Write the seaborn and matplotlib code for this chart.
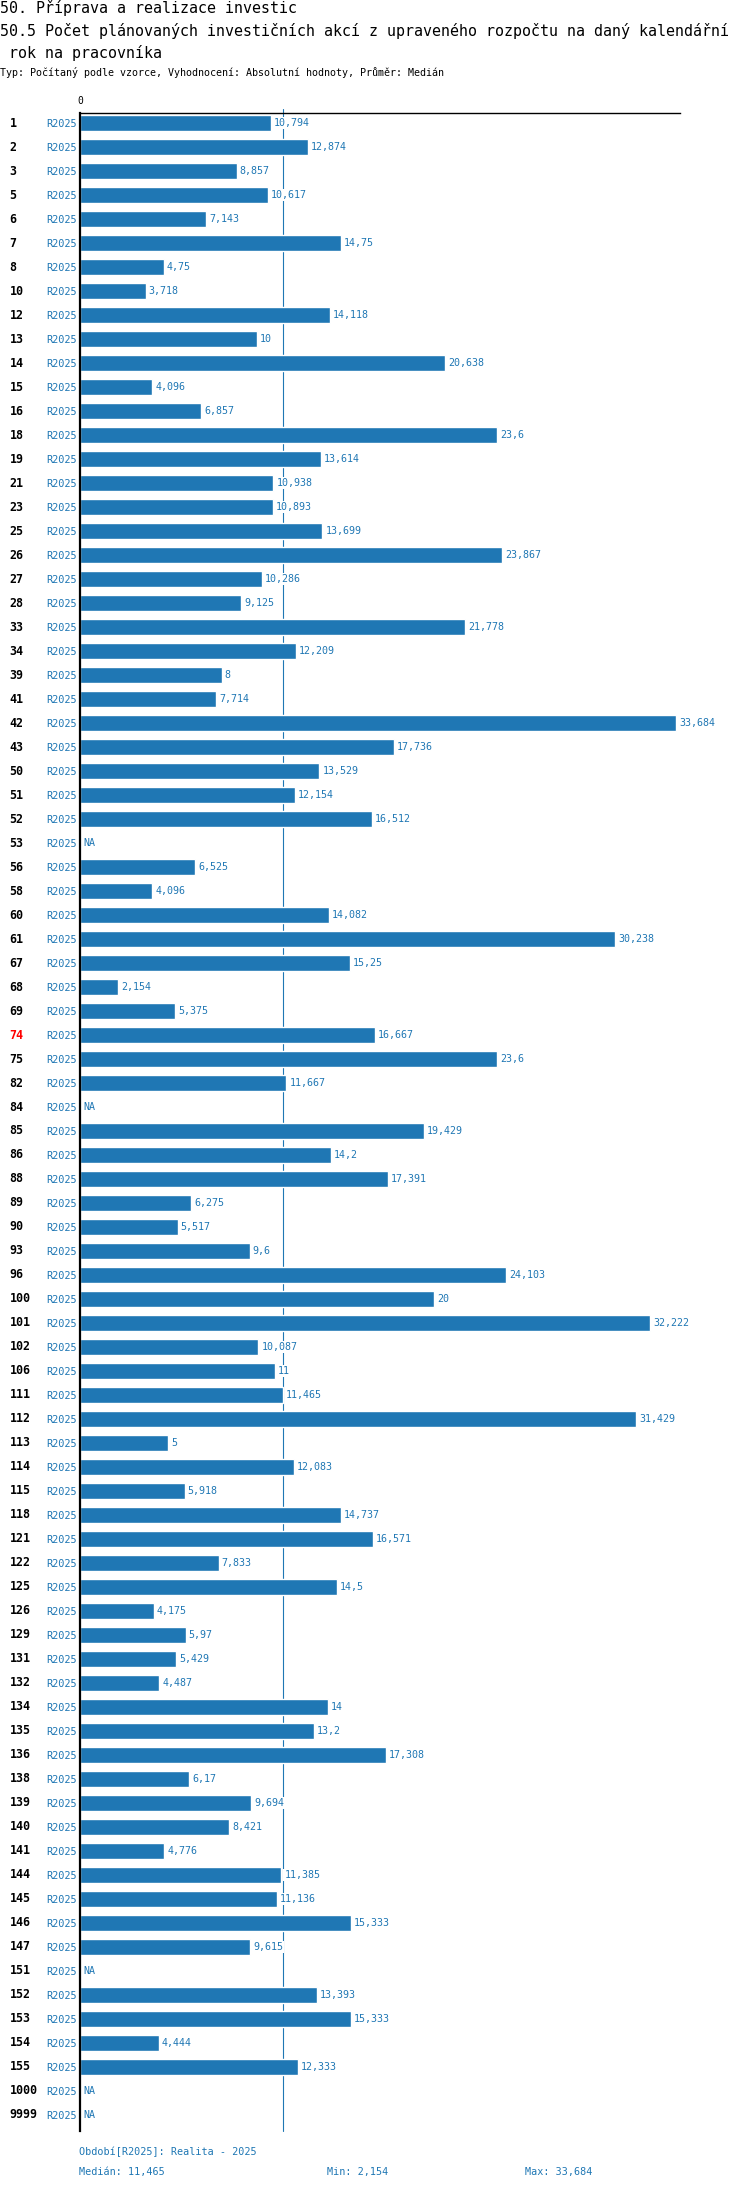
import numpy as np
import pandas as pd
import matplotlib
matplotlib.use("Agg")
import matplotlib.pyplot as plt
import matplotlib.transforms as mtransforms
import seaborn as sns

categories = ["1", "2", "3", "5", "6", "7", "8", "10", "12", "13", "14", "15", "16", "18", "19",
              "21", "23", "25", "26", "27", "28", "33", "34", "39", "41", "42", "43", "50", "51",
              "52", "53", "56", "58", "60", "61", "67", "68", "69", "74", "75", "82", "84", "85",
              "86", "88", "89", "90", "93", "96", "100", "101", "102", "106", "111", "112", "113",
              "114", "115", "118", "121", "122", "125", "126", "129", "131", "132", "134", "135",
              "136", "138", "139", "140", "141", "144", "145", "146", "147", "151", "152", "153",
              "154", "155", "1000", "9999"]
values = [10.794, 12.874, 8.857, 10.617, 7.143, 14.75, 4.75, 3.718, 14.118, 10, 20.638, 4.096,
          6.857, 23.6, 13.614, 10.938, 10.893, 13.699, 23.867, 10.286, 9.125, 21.778, 12.209, 8,
          7.714, 33.684, 17.736, 13.529, 12.154, 16.512, np.nan, 6.525, 4.096, 14.082, 30.238,
          15.25, 2.154, 5.375, 16.667, 23.6, 11.667, np.nan, 19.429, 14.2, 17.391, 6.275, 5.517,
          9.6, 24.103, 20, 32.222, 10.087, 11, 11.465, 31.429, 5, 12.083, 5.918, 14.737, 16.571,
          7.833, 14.5, 4.175, 5.97, 5.429, 4.487, 14, 13.2, 17.308, 6.17, 9.694, 8.421, 4.776,
          11.385, 11.136, 15.333, 9.615, np.nan, 13.393, 15.333, 4.444, 12.333, np.nan, np.nan]
period_label = "R2025"
highlight = "74"

title1 = "50. Příprava a realizace investic"
title2 = "50.5 Počet plánovaných investičních akcí z upraveného rozpočtu na daný kalendářní"
title3 = " rok na pracovníka"
subtitle = "Typ: Počítaný podle vzorce, Vyhodnocení: Absolutní hodnoty, Průměr: Medián"
footer1 = "Období[R2025]: Realita - 2025"

BLUE = "#1f77b4"

sns.set_style("white")
plt.rcParams["font.family"] = ["DejaVu Sans Mono", "DejaVu Sans"]

df = pd.DataFrame({"cat": categories, "val": values})

W, H = 750, 2190
fig = plt.figure(figsize=(W / 100, H / 100), dpi=100)
ax = fig.add_axes([80 / W, 59 / H, 600 / W, 2018 / H])

sns.barplot(data=df, y="cat", x="val", order=categories, orient="h", color=BLUE,
            saturation=1, width=0.667, ax=ax, zorder=2)

n = len(categories)
ax.set_ylim(n - 1 + 0.67, -0.42)
ax.set_xlim(0, 600 / 17.69)
ax.set_xlabel("")
ax.set_ylabel("")

for s in ["right", "bottom"]:
    ax.spines[s].set_visible(False)
ax.spines["left"].set_color("black")
ax.spines["left"].set_linewidth(1.6)
ax.spines["top"].set_color("black")
ax.spines["top"].set_linewidth(1.0)

# x axis: only "0" on top
ax.xaxis.tick_top()
ax.set_xticks([0])
ax.set_xticklabels(["0"], fontsize=7)
ax.tick_params(axis="x", length=0, pad=5.0, colors="black")

# y ticks: period labels
ax.set_yticks(range(n))
ax.set_yticklabels([period_label] * n, fontsize=7.4, color=BLUE)
ax.tick_params(axis="y", length=0, pad=2.2)

vals = np.array(values, dtype=float)
med = np.nanmedian(vals)
vmin = np.nanmin(vals)
vmax = np.nanmax(vals)

ax.axvline(med, ymin=0, ymax=1 + 4.5 / 2018, clip_on=False, color=BLUE, lw=0.8, zorder=0.5)


def fmt(v):
    s = f"{v:.3f}".rstrip("0").rstrip(".")
    return s.replace(".", ",")


for i, v in enumerate(values):
    if np.isnan(v):
        txt, xv = "NA", 0
    else:
        txt, xv = fmt(v), v
    ax.annotate(txt, xy=(xv, i), xytext=(3, 0), textcoords="offset pixels",
                ha="left", va="center", fontsize=7.2, color=BLUE, zorder=3,
                bbox=dict(facecolor="white", edgecolor="none", pad=0.8))

trans = mtransforms.blended_transform_factory(fig.transFigure, ax.transData)
for i, c in enumerate(categories):
    ax.text(9.5 / W, i, c, transform=trans, ha="left", va="center", fontsize=8.4,
            fontweight="bold", color="red" if c == highlight else "black", clip_on=False)

# titles
fig.text(0, 1 - 8 / H, title1, ha="left", va="center", fontsize=10.8, color="black")
fig.text(0, 1 - 31 / H, title2, ha="left", va="center", fontsize=10.8, color="black")
fig.text(0, 1 - 53 / H, title3, ha="left", va="center", fontsize=10.8, color="black")
fig.text(0, 1 - 73 / H, subtitle, ha="left", va="center", fontsize=7.2, color="black")

# footer
fig.text(79 / W, 1 - 2152 / H, footer1, ha="left", va="center", fontsize=7.3, color=BLUE)
fig.text(79 / W, 1 - 2172 / H, "Medián: " + fmt(med), ha="left", va="center", fontsize=7.3, color=BLUE)
fig.text(327 / W, 1 - 2172 / H, "Min: " + fmt(vmin), ha="left", va="center", fontsize=7.3, color=BLUE)
fig.text(525 / W, 1 - 2172 / H, "Max: " + fmt(vmax), ha="left", va="center", fontsize=7.3, color=BLUE)

fig.savefig("out.png", dpi=100)
